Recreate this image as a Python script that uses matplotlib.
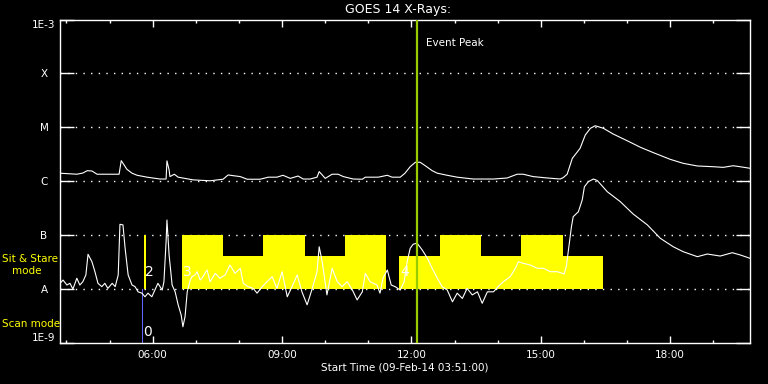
import numpy as np
import matplotlib
matplotlib.use("Agg")
import matplotlib.pyplot as plt
from matplotlib.ticker import FixedLocator

# GOES 14 long channel (1-8 A), time in hours since 00:00 09-Feb-14
long_time = [3.85, 4.24, 4.38, 4.48, 4.59, 4.71, 5.22, 5.27, 5.31, 5.40, 5.52, 5.64,
             5.87, 6.17, 6.31, 6.33, 6.38, 6.40, 6.50, 6.59, 6.94, 7.33, 7.63, 7.75,
             7.86, 8.03, 8.19, 8.49, 8.68, 8.88, 9.02, 9.19, 9.37, 9.49, 9.65, 9.81,
             9.86, 9.93, 10.00, 10.16, 10.30, 10.42, 10.65, 10.86, 10.93, 11.23, 11.44,
             11.55, 11.74, 11.85, 11.97, 12.09, 12.20, 12.32, 12.48, 12.60, 12.83,
             13.06, 13.43, 13.90, 14.22, 14.45, 14.59, 14.82, 15.15, 15.45, 15.52,
             15.61, 15.73, 15.91, 16.03, 16.15, 16.26, 16.45, 16.68, 17.01, 17.31,
             17.61, 18.00, 18.30, 18.63, 19.00, 19.23, 19.46, 19.62, 19.85]
long_flux = [1.41e-6, 1.35e-6, 1.42e-6, 1.57e-6, 1.55e-6, 1.35e-6, 1.35e-6, 2.41e-6,
             2.16e-6, 1.67e-6, 1.41e-6, 1.29e-6, 1.19e-6, 1.10e-6, 1.10e-6, 2.39e-6,
             1.62e-6, 1.22e-6, 1.35e-6, 1.19e-6, 1.06e-6, 1.02e-6, 1.09e-6, 1.31e-6,
             1.27e-6, 1.22e-6, 1.09e-6, 1.09e-6, 1.19e-6, 1.19e-6, 1.29e-6, 1.13e-6,
             1.25e-6, 1.10e-6, 1.10e-6, 1.19e-6, 1.51e-6, 1.31e-6, 1.13e-6, 1.35e-6,
             1.35e-6, 1.22e-6, 1.10e-6, 1.09e-6, 1.19e-6, 1.19e-6, 1.29e-6, 1.19e-6,
             1.19e-6, 1.41e-6, 1.86e-6, 2.25e-6, 2.25e-6, 1.94e-6, 1.57e-6, 1.41e-6,
             1.29e-6, 1.19e-6, 1.10e-6, 1.10e-6, 1.15e-6, 1.35e-6, 1.35e-6, 1.22e-6,
             1.15e-6, 1.10e-6, 1.17e-6, 1.35e-6, 2.66e-6, 4.08e-6, 7.2e-6, 9.6e-6,
             1.07e-5, 9.6e-6, 7.5e-6, 5.6e-6, 4.26e-6, 3.39e-6, 2.55e-6, 2.15e-6,
             1.92e-6, 1.86e-6, 1.81e-6, 1.94e-6, 1.86e-6, 1.74e-6]

# GOES 14 short channel (0.5-4 A)
short_time = [3.85, 3.92, 4.01, 4.08, 4.15, 4.24, 4.31, 4.38, 4.45, 4.50,
              4.59, 4.66, 4.73, 4.82, 4.89, 4.96, 5.06, 5.13, 5.20, 5.24,
              5.31, 5.36, 5.43, 5.52, 5.59, 5.66, 5.75, 5.82, 5.89, 5.98,
              6.05, 6.12, 6.22, 6.26, 6.31, 6.33, 6.38, 6.45, 6.52, 6.59,
              6.66, 6.70, 6.75, 6.80, 6.87, 6.91, 6.98, 7.03, 7.10, 7.14,
              7.21, 7.26, 7.33, 7.45, 7.56, 7.68, 7.79, 7.91, 8.03, 8.10,
              8.21, 8.33, 8.42, 8.54, 8.65, 8.77, 8.88, 9.00, 9.12, 9.23,
              9.35, 9.46, 9.58, 9.70, 9.81, 9.86, 9.93, 10.04, 10.16, 10.28,
              10.39, 10.51, 10.63, 10.74, 10.86, 10.93, 11.04, 11.20, 11.27, 11.34,
              11.44, 11.53, 11.62, 11.74, 11.83, 11.90, 11.97, 12.04, 12.13, 12.25,
              12.37, 12.48, 12.60, 12.71, 12.83, 12.95, 13.06, 13.18, 13.29, 13.41,
              13.53, 13.64, 13.76, 13.90, 14.01, 14.13, 14.29, 14.41, 14.48, 14.59,
              14.75, 14.92, 15.06, 15.22, 15.38, 15.50, 15.54, 15.59, 15.64, 15.71,
              15.75, 15.87, 15.96, 16.01, 16.10, 16.22, 16.31, 16.54, 16.84, 17.14,
              17.47, 17.77, 18.07, 18.30, 18.63, 18.86, 19.16, 19.44, 19.63, 19.85]
short_flux = [1.28e-8, 1.47e-8, 1.19e-8, 1.28e-8, 1.0e-8, 1.59e-8, 1.19e-8, 1.37e-8, 1.83e-8, 4.42e-8,
              3.22e-8, 2.10e-8, 1.28e-8, 1.11e-8, 1.28e-8, 1.03e-8, 1.28e-8, 1.11e-8, 1.83e-8, 1.59e-7,
              1.55e-7, 5.7e-8, 1.83e-8, 1.19e-8, 1.11e-8, 0.89e-8, 0.84e-8, 0.72e-8, 0.84e-8, 0.72e-8,
              0.96e-8, 1.28e-8, 0.96e-8, 1.37e-8, 7.57e-8, 1.91e-7, 4.28e-8, 1.19e-8, 0.89e-8, 0.51e-8,
              0.33e-8, 0.20e-8, 0.31e-8, 0.89e-8, 1.47e-8, 1.70e-8, 1.83e-8, 2.10e-8, 1.47e-8, 1.59e-8,
              1.96e-8, 2.26e-8, 1.37e-8, 1.96e-8, 1.59e-8, 1.83e-8, 2.80e-8, 1.96e-8, 2.43e-8, 1.28e-8,
              1.11e-8, 1.03e-8, 0.84e-8, 1.11e-8, 1.37e-8, 1.70e-8, 1.03e-8, 2.10e-8, 0.72e-8, 1.11e-8,
              1.83e-8, 0.89e-8, 0.51e-8, 1.03e-8, 2.10e-8, 6.1e-8, 3.22e-8, 0.78e-8, 2.43e-8, 1.37e-8,
              1.11e-8, 1.37e-8, 0.96e-8, 0.63e-8, 0.89e-8, 1.96e-8, 1.37e-8, 1.19e-8, 0.84e-8, 1.59e-8,
              2.26e-8, 1.19e-8, 1.11e-8, 0.96e-8, 1.37e-8, 3.22e-8, 5.7e-8, 6.8e-8, 7.1e-8, 5.3e-8,
              3.72e-8, 2.43e-8, 1.59e-8, 1.11e-8, 0.96e-8, 0.58e-8, 0.84e-8, 0.67e-8, 1.03e-8, 0.78e-8,
              0.89e-8, 0.545e-8, 0.89e-8, 0.89e-8, 1.11e-8, 1.37e-8, 1.70e-8, 2.43e-8, 3.22e-8, 3.01e-8,
              2.80e-8, 2.43e-8, 2.43e-8, 2.10e-8, 2.10e-8, 1.96e-8, 1.90e-8, 2.60e-8, 5.3e-8, 1.44e-7,
              2.2e-7, 2.72e-7, 4.5e-7, 7.9e-7, 9.8e-7, 1.10e-6, 1.03e-6, 6.4e-7, 4.2e-7, 2.47e-7,
              1.55e-7, 8.75e-8, 6.1e-8, 4.94e-8, 3.99e-8, 4.47e-8, 4.1e-8, 4.73e-8, 4.28e-8, 3.72e-8]

# observation mode blocks (start, end in hours; top flux)
block_start = [6.67, 7.625, 8.553, 9.535, 10.46, 11.72, 12.67, 13.62, 14.55, 15.51]
block_end = [7.625, 8.553, 9.535, 10.46, 11.41, 12.67, 13.62, 14.55, 15.51, 16.44]
block_top = [1e-7, 4.16e-8, 1e-7, 4.16e-8, 1e-7, 4.16e-8, 1e-7, 4.16e-8, 1e-7, 4.16e-8]

obs_labels = ["0", "2", "3", "4"]
obs_label_time = [5.78, 5.82, 6.70, 11.74]
obs_label_flux = [1.6e-9, 2.1e-8, 2.1e-8, 2.1e-8]

peak_time = 12.12
t_start, t_end = 3.85, 19.85

ytick_vals = [1e-9, 1e-8, 1e-7, 1e-6, 1e-5, 1e-4, 1e-3]
ytick_labels = ["1E-9", "A", "B", "C", "M", "X", "1E-3"]

fig = plt.figure(figsize=(7.68, 3.84), dpi=100, facecolor="black")
ax = fig.add_axes([60/768, 41/384, 690/768, 323.5/384], facecolor="black")
ax.set_yscale("log")
ax.set_xlim(t_start, t_end)
ax.set_ylim(1e-9, 1e-3)

# dotted level lines
for lev in ytick_vals[1:-1]:
    ax.axhline(lev, color="white", lw=1.0, ls=(0, (1, 4.5)), zorder=1)

# mode blocks
widths = [e - s for s, e in zip(block_start, block_end)]
heights = [t - 1e-8 for t in block_top]
ax.bar(block_start, heights, width=widths, bottom=1e-8, align="edge",
       color="#ffff00", linewidth=0, zorder=2)
ax.bar([5.80], [1e-7 - 1e-8], width=0.04, bottom=1e-8, align="edge",
       color="#ffff00", linewidth=0, zorder=2)
ax.bar([5.74], [1e-8 - 1e-9], width=0.045, bottom=1e-9, align="edge",
       color="#6464ff", linewidth=0, zorder=2)

ax.plot(long_time, long_flux, color="white", lw=0.8, zorder=3)
ax.plot(short_time, short_flux, color="white", lw=0.8, zorder=3)

ax.axvline(peak_time, color="#99cc00", lw=1.6, zorder=4)
ax.text(peak_time + 0.22, 10**-3.43, "Event Peak", color="white", fontsize=7.5,
        va="center", ha="left")

for lab, t, f in zip(obs_labels, obs_label_time, obs_label_flux):
    ax.text(t, f, lab, color="white", fontsize=10, va="center", ha="left", zorder=5)

# axes styling
for sp in ax.spines.values():
    sp.set_color("white")
    sp.set_linewidth(1.0)

ax.yaxis.set_major_locator(FixedLocator(ytick_vals))
ax.yaxis.set_minor_locator(FixedLocator([]))
ax.set_yticklabels(ytick_labels)
ax.tick_params(axis="y", which="major", direction="in", length=10, width=1.0,
               color="white", labelcolor="white", labelsize=7.5, pad=11.5,
               left=True, right=True)
for lbl in ax.get_yticklabels():
    lbl.set_ha("center")
ylbls = ax.get_yticklabels()
ylbls[0].set_va("bottom")
ylbls[-1].set_va("top")

major_h = [6, 9, 12, 15, 18]
ax.xaxis.set_major_locator(FixedLocator(major_h))
ax.xaxis.set_minor_locator(FixedLocator(list(range(4, 20))))
ax.set_xticklabels([f"{h:02d}:00" for h in major_h])
ax.tick_params(axis="x", which="major", direction="in", length=5, width=1.0,
               color="white", labelcolor="white", labelsize=7.5, pad=5,
               top=True, bottom=True)
ax.tick_params(axis="x", which="minor", direction="in", length=2.5, width=1.0,
               color="white", top=True, bottom=True)

ax.set_xlabel("Start Time (09-Feb-14 03:51:00)", color="white", fontsize=7.5,
              labelpad=2)
fig.text(398/768, 1 - 10/384, "GOES 14 X-Rays:", color="white", fontsize=9,
         ha="center", va="center")

fig.text(2/768, 1 - 259/384, "Sit & Stare", color="#ffff00", fontsize=7.5,
         ha="left", va="center")
fig.text(12/768, 1 - 271/384, "mode", color="#ffff00", fontsize=7.5,
         ha="left", va="center")
fig.text(2/768, 1 - 324/384, "Scan mode", color="#ffff00", fontsize=7.5,
         ha="left", va="center")

fig.savefig("out.png", dpi=100, facecolor="black")
